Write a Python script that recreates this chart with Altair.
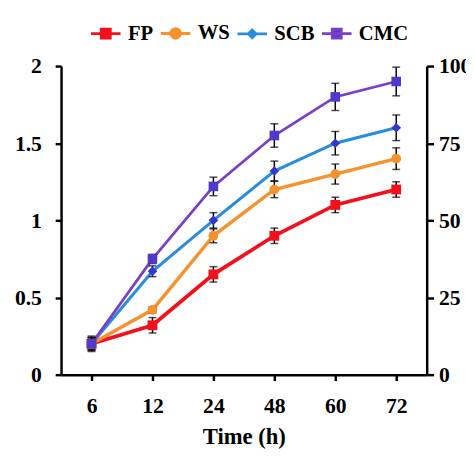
import altair as alt
import pandas as pd

times = ["6", "12", "24", "48", "60", "72"]
series = ["FP", "WS", "SCB", "CMC"]
fp = [0.20, 0.32, 0.65, 0.90, 1.10, 1.20]
ws = [0.20, 0.42, 0.90, 1.20, 1.30, 1.40]
scb = [0.20, 0.67, 1.00, 1.32, 1.50, 1.60]
cmc = [0.20, 0.75, 1.22, 1.55, 1.80, 1.90]
fp_err = [0.05, 0.05, 0.05, 0.05, 0.05, 0.05]
ws_err = [0.04, 0.02, 0.045, 0.053, 0.065, 0.07]
scb_err = [0.04, 0.035, 0.05, 0.064, 0.076, 0.083]
cmc_err = [0.04, 0.03, 0.06, 0.076, 0.088, 0.093]
right_ticks = [0, 25, 50, 75, 100]

line_colors = ["#f2101c", "#f5922e", "#2a8ddc", "#7a3fc6"]
marker_colors = ["#f2101c", "#f5922e", "#3636cc", "#5038cc"]
marker_shapes = ["square", "circle", "diamond", "square"]
legend_paths = [
    "M-1,0L1,0M-0.3,-0.3L0.3,-0.3L0.3,0.3L-0.3,0.3Z",
    "M-1,0L1,0M-0.32,0A0.32,0.32 0 1,0 0.32,0A0.32,0.32 0 1,0 -0.32,0Z",
    "M-1,0L1,0M0,-0.25L0.25,0L0,0.25L-0.25,0Z",
    "M-1,0L1,0M-0.3,-0.3L0.3,-0.3L0.3,0.3L-0.3,0.3Z",
]
line_widths = [3.8, 2.8, 2.8, 2.8]

rows = []
for name, vals, errs in zip(series, [fp, ws, scb, cmc], [fp_err, ws_err, scb_err, cmc_err]):
    for t, v, e in zip(times, vals, errs):
        rows.append({"series": name, "time": t, "value": v, "lo": v - e, "hi": v + e})
df = pd.DataFrame(rows)
rdf = pd.DataFrame({"r": right_ticks})

FONT = "Liberation Serif"
base = alt.Chart(df)
xenc = alt.X("time:N", sort=times, scale=alt.Scale(type="point", padding=0.5),
             axis=alt.Axis(title="Time (h)", labelAngle=0, tickSize=6, labelPadding=16,
                           titlePadding=9))
yscale = alt.Scale(domain=[0, 2])

lines = base.mark_line().encode(
    x=xenc,
    y=alt.Y("value:Q", scale=yscale,
            axis=alt.Axis(values=[0, 0.5, 1, 1.5, 2], format="~g", title=None,
                          tickSize=6, labelPadding=14)),
    color=alt.Color("series:N", sort=series, scale=alt.Scale(domain=series, range=line_colors), legend=None),
    strokeWidth=alt.StrokeWidth("series:N", sort=series, scale=alt.Scale(domain=series, range=line_widths), legend=None),
    order=alt.Order("time_order:Q"),
).transform_calculate(time_order="indexof(%s, datum.time)" % str(times))

rules = base.mark_rule(color="black", strokeWidth=1.5).encode(
    x=alt.X("time:N", sort=times), y=alt.Y("lo:Q", scale=yscale), y2="hi:Q")
cap_lo = base.mark_tick(color="black", size=8, thickness=1.5, orient="horizontal").encode(
    x=alt.X("time:N", sort=times), y=alt.Y("lo:Q", scale=yscale))
cap_hi = base.mark_tick(color="black", size=8, thickness=1.5, orient="horizontal").encode(
    x=alt.X("time:N", sort=times), y=alt.Y("hi:Q", scale=yscale))

points = base.mark_point(filled=True, opacity=1).encode(
    x=alt.X("time:N", sort=times),
    y=alt.Y("value:Q", scale=yscale),
    color=alt.Color("series:N", sort=series, scale=alt.Scale(domain=series, range=marker_colors), legend=None),
    shape=alt.Shape("series:N", sort=series, scale=alt.Scale(domain=series, range=marker_shapes), legend=None),
    size=alt.Size("series:N", sort=series, scale=alt.Scale(domain=series, range=[100, 95, 45, 100]), legend=None),
)

legend = alt.Legend(title=None, orient="none", legendX=29, legendY=-50, direction="horizontal",
                    columns=4, symbolSize=900, symbolStrokeWidth=3, symbolOpacity=1,
                    labelFont=FONT, labelFontSize=21, labelFontWeight="bold", labelColor="black",
                    labelOffset=6, columnPadding=1)
leg_layer = base.mark_point(filled=True, opacity=0).encode(
    x=alt.X("time:N", sort=times),
    y=alt.Y("value:Q", scale=yscale),
    fill=alt.Fill("series:N", sort=series, scale=alt.Scale(domain=series, range=marker_colors), legend=legend),
    stroke=alt.Stroke("series:N", sort=series, scale=alt.Scale(domain=series, range=line_colors), legend=legend),
    shape=alt.Shape("series:N", sort=series, scale=alt.Scale(domain=series, range=legend_paths), legend=legend),
)

inner = alt.layer(lines, rules, cap_lo, cap_hi, points, leg_layer).resolve_scale(
    color="independent", shape="independent", size="independent", fill="independent", stroke="independent")

right = alt.Chart(rdf).mark_point(opacity=0).encode(
    y=alt.Y("r:Q", scale=alt.Scale(domain=[0, 100]),
            axis=alt.Axis(orient="right", values=right_ticks, title=None, tickSize=7, labelPadding=5)))

chart = alt.layer(inner, right).resolve_scale(y="independent").properties(
    width=372, height=314,
    autosize=alt.AutoSizeParams(type="none"),
    padding={"left": 54, "top": 55, "right": 40, "bottom": 97},
).configure_view(stroke=None).configure_axis(
    grid=False, domainColor="black", domainWidth=2.5, tickColor="black", tickWidth=2.5,
    labelFont=FONT, labelFontSize=22, labelFontWeight="bold", labelColor="black",
    titleFont=FONT, titleFontSize=23, titleFontWeight="bold", titleColor="black",
)

chart.save("out.html", embed_options={"renderer": "svg", "actions": False})
